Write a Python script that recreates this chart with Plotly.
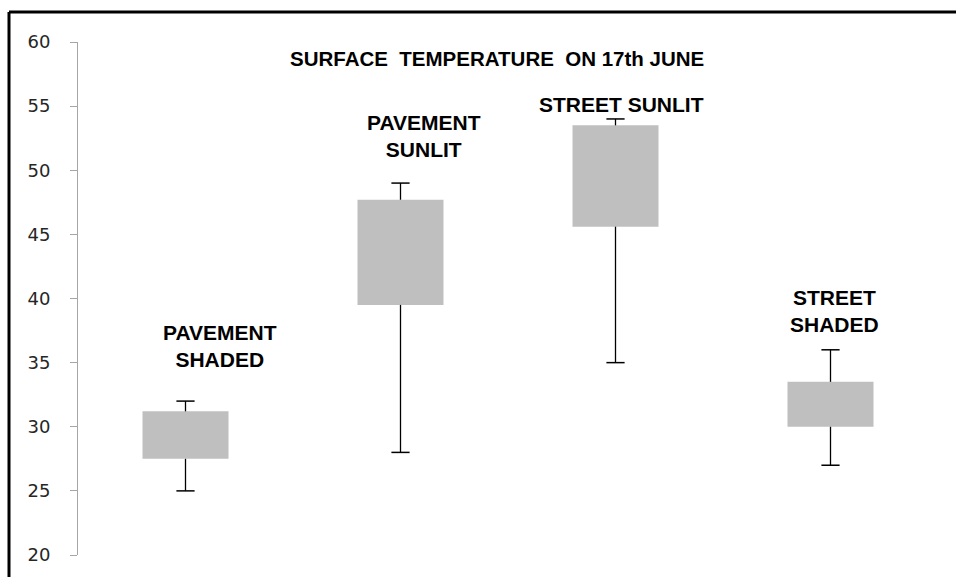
import plotly.graph_objects as go

# ---- data ----
categories = ["PAVEMENT<br>SHADED", "PAVEMENT<br>SUNLIT", "STREET SUNLIT", "STREET<br>SHADED"]
minimum = [25.0, 28.0, 35.0, 27.0]
q1 = [27.5, 39.5, 45.6, 30.0]
q3 = [31.2, 47.7, 53.5, 33.5]
maximum = [32.0, 49.0, 54.0, 36.0]
y_ticks = [20, 25, 30, 35, 40, 45, 50, 55, 60]
title_text = "SURFACE&nbsp; TEMPERATURE&nbsp; ON 17th JUNE"

# ---- layout geometry (pixels) ----
W, H = 956, 577
L, R, T, B = 78, 18, 42, 22
PW, PH = W - L - R, H - T - B


def px(xp):
    return (xp - L) / PW


def py(yp):
    return 1 - (yp - T) / PH


xs = list(range(len(categories)))

fig = go.Figure()

# boxes (q1 -> q3)
fig.add_trace(go.Bar(
    x=xs, y=[b - a for a, b in zip(q1, q3)], base=q1, width=0.4,
    marker=dict(color="#bfbfbf", line=dict(width=0)),
    hoverinfo="skip", showlegend=False,
))

# whiskers
wx, wy = [], []
for i in xs:
    wx += [i, i, None, i, i, None]
    wy += [q3[i], maximum[i], None, q1[i], minimum[i], None]
fig.add_trace(go.Scatter(
    x=wx, y=wy, mode="lines", line=dict(color="#000000", width=1.3),
    hoverinfo="skip", showlegend=False,
))

# caps
fig.add_trace(go.Scatter(
    x=xs + xs, y=maximum + minimum, mode="markers",
    marker=dict(symbol="line-ew", size=13, line=dict(color="#000000", width=1.5)),
    hoverinfo="skip", showlegend=False,
))

label_font = dict(family="Liberation Sans, Arial, sans-serif", size=21, color="#000000")
title_font = dict(family="Liberation Sans, Arial, sans-serif", size=20.5, color="#000000")
label_pos = [(219.5, 346), (423.5, 136), (621, 104), (834.5, 310.5)]
annotations = []
for txt, (lx, ly) in zip(categories, label_pos):
    annotations.append(dict(
        x=px(lx), y=py(ly), xref="paper", yref="paper", text="<b>" + txt + "</b>",
        showarrow=False, xanchor="center", yanchor="middle", font=label_font,
        align="center",
    ))
annotations.append(dict(
    x=px(497), y=py(58), xref="paper", yref="paper", text="<b>" + title_text + "</b>",
    showarrow=False, xanchor="center", yanchor="middle", font=title_font,
))

fig.update_layout(
    width=W, height=H,
    margin=dict(l=L, r=R, t=T, b=B, pad=0),
    paper_bgcolor="white", plot_bgcolor="white",
    annotations=annotations,
    shapes=[
        dict(type="line", xref="paper", yref="paper", x0=px(9), x1=px(980), y0=py(12), y1=py(12),
             line=dict(color="black", width=3)),
        dict(type="line", xref="paper", yref="paper", x0=px(9), x1=px(9), y0=py(12), y1=py(600),
             line=dict(color="black", width=3)),
    ],
    xaxis=dict(range=[-0.5, 3.5], showticklabels=False, ticks="", showline=False,
               showgrid=False, zeroline=False, fixedrange=True),
    yaxis=dict(range=[20, 60], tickvals=y_ticks, ticktext=[str(v) for v in y_ticks],
               showline=True, linecolor="#a6a6a6", linewidth=1,
               ticks="outside", ticklen=7, tickcolor="#a6a6a6", tickwidth=1,
               showgrid=False, zeroline=False, ticklabelstandoff=16,
               tickfont=dict(family="DejaVu Sans, Verdana, sans-serif", size=18, color="#262626")),
)

fig.write_html(
    "out.html",
    config={"displayModeBar": False},
    post_script="document.body.style.margin='0';document.body.style.overflow='hidden';",
)
